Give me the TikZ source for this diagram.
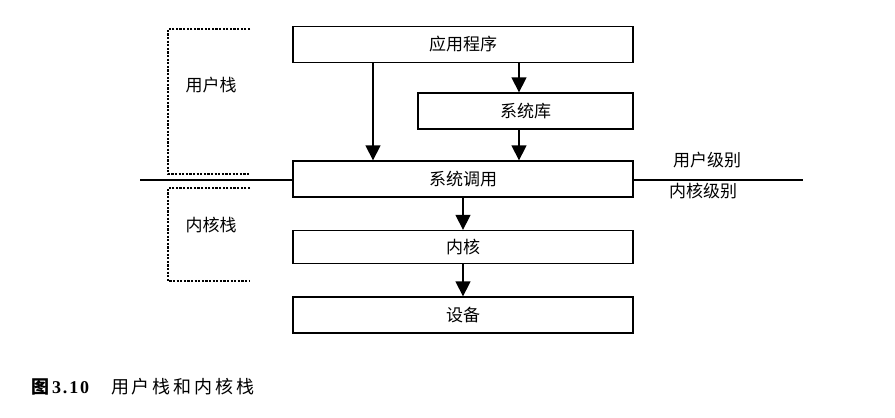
\documentclass[tikz,border=0pt]{standalone}
\usepackage{fontspec}
\setmainfont{Liberation Serif}
\newfontfamily\cjk{Noto Sans CJK SC}
\newfontfamily\capcjk[LetterSpace=16]{Noto Sans CJK SC}
\newfontfamily\capnum[LetterSpace=10]{Liberation Serif}
\usetikzlibrary{arrows.meta}
\tikzset{
  box/.style={draw, line width=1.3pt, rectangle, minimum width=340pt, font=\cjk\fontsize{17}{20}\selectfont, inner sep=0pt},
  arr/.style={line width=1.3pt, -{Triangle[width=15pt,length=15pt]}},
  lvl/.style={line width=1.3pt},
  dashbr/.style={line width=1.4pt, dash pattern=on 2.2pt off 1.4pt},
  lbl/.style={font=\cjk\fontsize{17}{20}\selectfont, inner sep=0pt}
}
\begin{document}
\begin{tikzpicture}[x=1pt,y=-1pt]
\useasboundingbox[fill=white] (0,0) rectangle (895,418);
\node[box, minimum height=36pt] (app) at (463,44.5) {应用程序};
\node[box, minimum width=215pt, minimum height=36pt] (lib) at (525.5,111) {系统库};
\node[box, minimum height=36pt] (sys) at (463,179) {系统调用};
\node[box, minimum height=33pt] (ker) at (463,247) {内核};
\node[box, minimum height=36pt] (dev) at (463,315) {设备};
\coordinate (xa) at (373,0);
\coordinate (xb) at (519,0);
\draw[arr] (app.south -| xa) -- (sys.north -| xa);
\draw[arr] (app.south -| xb) -- (lib.north -| xb);
\draw[arr] (lib.south -| xb) -- (sys.north -| xb);
\draw[arr] (sys.south) -- (ker.north);
\draw[arr] (ker.south) -- (dev.north);
\coordinate (L) at (140,180);
\coordinate (R) at (803,180);
\draw[lvl] (L) -- (sys.west |- L);
\draw[lvl] (sys.east |- L) -- (R);
\coordinate (u1) at (250,29);
\coordinate (u2) at (168,29);
\coordinate (u3) at (168,174);
\coordinate (u4) at (250,174);
\draw[dashbr] (u1) -- (u2) -- (u3) -- (u4);
\coordinate (k1) at (250,188);
\coordinate (k2) at (168,188);
\coordinate (k3) at (168,281);
\coordinate (k4) at (250,281);
\draw[dashbr] (k1) -- (k2) -- (k3) -- (k4);
\node[lbl] (us) at (211,85) {用户栈};
\node[lbl] (ks) at (211,225) {内核栈};
\node[lbl] (ul) at (707,160) {用户级别};
\node[lbl] (kl) at (703,191) {内核级别};
\node[anchor=west, inner sep=0pt] (cap) at (31,387) {{\capcjk\bfseries\fontsize{18}{20}\selectfont 图}\hspace{3pt}{\capnum\bfseries\fontsize{18}{20}\selectfont 3.10}\hspace{22pt}{\capcjk\fontsize{18}{20}\selectfont 用户栈和内核栈}};
\end{tikzpicture}
\end{document}
